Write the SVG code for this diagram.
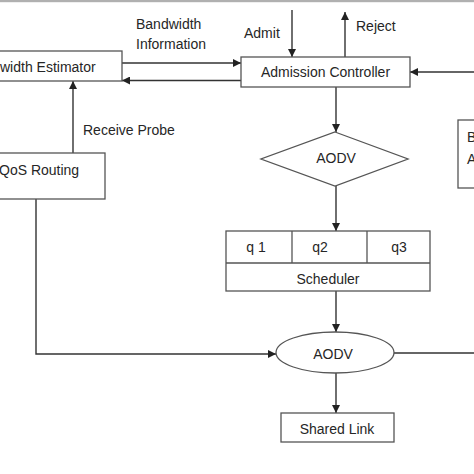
<svg xmlns="http://www.w3.org/2000/svg" width="474" height="474" viewBox="0 0 474 474">
<style>
.box{fill:#fff;stroke:#555;stroke-width:1.3}
.ln{fill:none;stroke:#333;stroke-width:1.4}
text{font-family:"Liberation Sans",Arial,sans-serif;font-size:14px;fill:#262626}
.c{text-anchor:middle}
</style>
<defs>
<marker id="ah" viewBox="0 0 10 10" refX="10" refY="5" markerWidth="8" markerHeight="8" markerUnits="userSpaceOnUse" orient="auto">
<path d="M0,0 L10,5 L0,10 z" fill="#222"/>
</marker>
</defs>
<rect x="0" y="0" width="474" height="474" fill="#fff"/>
<rect x="0" y="0" width="474" height="2.2" fill="#b0b0b0"/>
<g id="connectors">
<line class="ln" x1="122" y1="63" x2="241" y2="63" marker-end="url(#ah)"/>
<line class="ln" x1="241" y1="80.5" x2="122" y2="80.5" marker-end="url(#ah)"/>
<line class="ln" x1="73" y1="153" x2="73" y2="81" marker-end="url(#ah)"/>
<line class="ln" x1="292" y1="10" x2="292" y2="57" marker-end="url(#ah)"/>
<line class="ln" x1="345" y1="57" x2="345" y2="12" marker-end="url(#ah)"/>
<line class="ln" x1="474" y1="72" x2="410" y2="72" marker-end="url(#ah)"/>
<line class="ln" x1="336" y1="87" x2="336" y2="132" marker-end="url(#ah)"/>
<line class="ln" x1="336" y1="186" x2="336" y2="231" marker-end="url(#ah)"/>
<line class="ln" x1="336" y1="291" x2="336" y2="332" marker-end="url(#ah)"/>
<path class="ln" d="M36,199 V354 H276" marker-end="url(#ah)"/>
<line class="ln" x1="394" y1="353" x2="474" y2="353"/>
<line class="ln" x1="336" y1="373" x2="336" y2="413" marker-end="url(#ah)"/>
<text x="136" y="29">Bandwidth</text>
<text x="136" y="49">Information</text>
<text x="83" y="135">Receive Probe</text>
<text x="244" y="38">Admit</text>
<text x="356" y="31">Reject</text>
</g>
<g id="bandwidth-estimator">
<rect class="box" x="-2" y="51" width="124" height="30"/>
<text x="0" y="72">width Estimator</text>
</g>
<g id="qos-routing">
<rect class="box" x="-2" y="153" width="107" height="46"/>
<text x="-1" y="175">QoS Routing</text>
</g>
<g id="admission-controller">
<rect class="box" x="241" y="57" width="169" height="30"/>
<text x="325.5" y="77" class="c">Admission Controller</text>
</g>
<g id="aodv-diamond">
<polygon class="box" points="335,132 408,159 335,186 261,159"/>
<text x="336" y="163" class="c">AODV</text>
</g>
<g id="right-box">
<rect class="box" x="458" y="120" width="30" height="68"/>
<text x="467" y="142">B</text>
<text x="467" y="164">A</text>
</g>
<g id="scheduler">
<rect class="box" x="226" y="231" width="204" height="60"/>
<line class="box" x1="226" y1="263" x2="430" y2="263"/>
<line class="box" x1="292" y1="231" x2="292" y2="263"/>
<line class="box" x1="367" y1="231" x2="367" y2="263"/>
<text x="256" y="252" class="c">q 1</text>
<text x="320" y="252" class="c">q2</text>
<text x="399" y="252" class="c">q3</text>
<text x="328" y="284" class="c">Scheduler</text>
</g>
<g id="aodv-ellipse">
<ellipse class="box" cx="335" cy="352.5" rx="59" ry="20.5"/>
<text x="333" y="359" class="c">AODV</text>
</g>
<g id="shared-link">
<rect class="box" x="281" y="413" width="113" height="29"/>
<text x="337" y="434" class="c">Shared Link</text>
</g>
</svg>
